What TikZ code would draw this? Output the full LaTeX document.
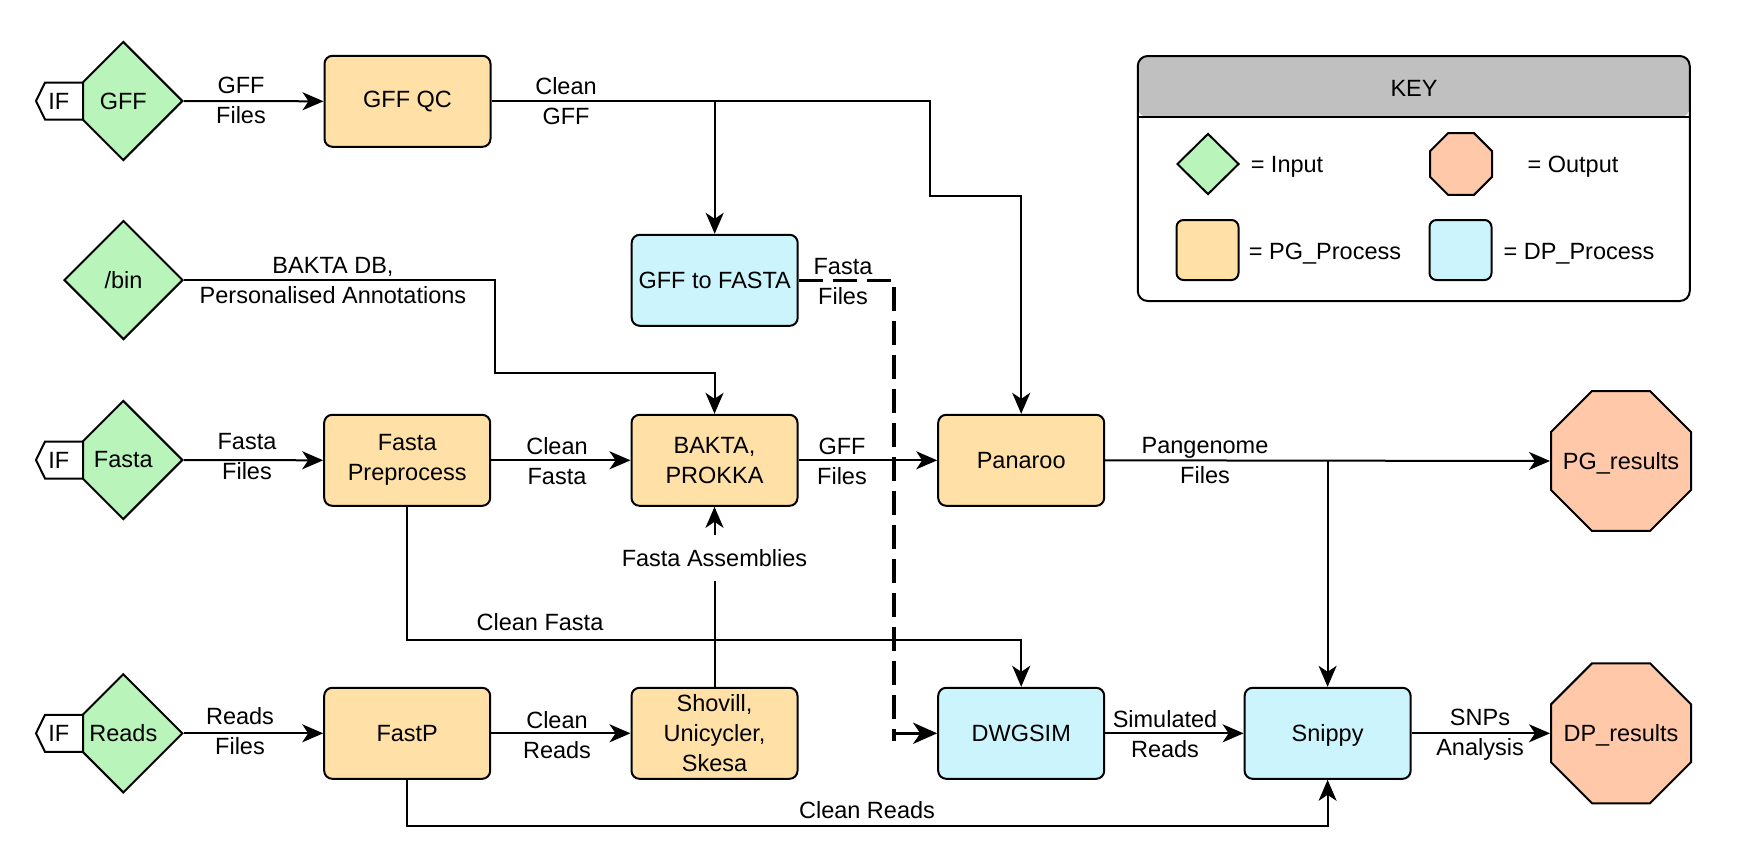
\documentclass[tikz,border=0pt]{standalone}
\usepackage{fontspec}
\setmainfont{Liberation Sans}
\usetikzlibrary{arrows.meta,shapes.geometric}

\definecolor{ingreen}{RGB}{185,245,187}
\definecolor{pgorange}{RGB}{255,224,166}
\definecolor{dpblue}{RGB}{204,244,252}
\definecolor{outpeach}{RGB}{255,200,168}
\definecolor{keygray}{RGB}{192,192,192}

\tikzset{
  box/.style={draw, line width=2pt, rounded corners=8pt, minimum width=166pt,
    minimum height=91pt, align=center, inner sep=2pt},
  pgbox/.style={box, fill=pgorange},
  dpbox/.style={box, fill=dpblue},
  inbox/.style={draw, line width=2pt, fill=ingreen, diamond, shape aspect=1,
    inner sep=0pt, minimum width=119pt, minimum height=119pt},
  outbox/.style={draw, line width=2pt, fill=outpeach, regular polygon,
    regular polygon sides=8, inner sep=0pt, minimum size=151.5pt},
  iftag/.style={draw, line width=2pt, fill=white},
  lbl/.style={align=center, inner sep=0pt},
  capc/.style={text height=16.8pt, text depth=0pt},
  conn/.style={line width=2pt},
  arr/.style={line width=2pt, -{Stealth[length=21pt, width=18pt, inset=6pt]}},
  dashline/.style={line width=3.5pt, dash pattern=on 24pt off 10pt},
  thickarr/.style={line width=3.5pt, -{Stealth[length=24pt, width=21pt, inset=7pt]}},
}

\begin{document}
\begin{tikzpicture}[x=1pt, y=-1pt, font=\fontsize{23.5}{30}\selectfont]
\useasboundingbox (0,0) rectangle (1763,865);

% inputs
\node[inbox] (gffin)   at (123.3,101)   {GFF};
\node[inbox] (binin)   at (123.5,280)   {/bin};
\node[inbox] (fastain) at (123.3,460)   {Fasta};
\node[inbox] (readsin) at (123.3,733.3) {Reads};

% "IF" tags laid over the left tips of the input diamonds
\foreach \yy/\nm in {101/ifgff, 460/iffasta, 733.3/ifreads}{
  \draw[iftag] (36,\yy) -- (45,\yy-18.5) -- (83,\yy-18.5) -- (83,\yy+18.5)
    -- (45,\yy+18.5) -- cycle;
  \node[lbl] (\nm) at (58.8,\yy) {IF};
}

% processes
\node[pgbox] (gffqc)    at (407.5,101.3) {GFF QC};
\node[dpbox] (gff2fa)   at (714.7,280.3) {GFF to FASTA};
\node[pgbox] (fastapre) at (407.2,460.3) {Fasta\\Preprocess};
\node[pgbox] (bakta)    at (714.5,460.3) {BAKTA,\\PROKKA};
\node[pgbox] (panaroo)  at (1021.2,460.3) {Panaroo};
\node[pgbox] (fastp)    at (407.2,733.3) {FastP};
\node[pgbox] (shovill)  at (714.5,733.3) {Shovill,\\Unicycler,\\Skesa};
\node[dpbox] (dwgsim)   at (1021.2,733.3) {DWGSIM};
\node[dpbox, capc] (snippy) at (1327.6,733.3) {Snippy};

% outputs (text as a centred label so it may run close to the sides)
\node[outbox, label={[capc]center:PG\_results}] (pgres) at (1621,461)   {};
\node[outbox, label={[capc]center:DP\_results}] (dpres) at (1621,733.3) {};

% bend points
\coordinate (gffsplit) at (714.7,101.3);
\coordinate (gffbend)  at (930,196);
\coordinate (binbend)  at (495,373);
\coordinate (cfbend)   at (1021.2,640);
\coordinate (crbend)   at (1327.6,826);
\coordinate (pgsplit)  at (1327.6,460.3);
\coordinate (dashA)    at (894,280.3);
\coordinate (dashB)    at (894,733.3);

% connectors
\draw[arr] (gffin.east) -- (gffqc.west)
  node[lbl] at (241,100) {GFF\\Files};
\draw[arr] (gffqc.east) -| (gffbend) -| (panaroo.north)
  node[lbl] at (566,101) {Clean\\GFF};
\draw[arr] (gffsplit) -- (gff2fa.north);
\draw[arr] (binin.east) -| (binbend) -| (bakta.north)
  node[lbl] at (333,281) {BAKTA DB,\\Personalised Annotations};
\draw[arr] (fastain.east) -- (fastapre.west)
  node[lbl] at (247,457) {Fasta\\Files};
\draw[arr] (fastapre.east) -- (bakta.west)
  node[lbl] at (557,461) {Clean\\Fasta};
\draw[arr] (bakta.east) -- (panaroo.west)
  node[lbl] at (842,461) {GFF\\Files};
\draw[arr] (panaroo.east) -- (pgres.west)
  node[lbl] at (1205,461) {Pangenome\\Files};
\draw[arr] (pgsplit) -- (snippy.north);
\draw[arr] (readsin.east) -- (fastp.west)
  node[lbl] at (240,731) {Reads\\Files};
\draw[arr] (fastp.east) -- (shovill.west)
  node[lbl] at (557,735) {Clean\\Reads};
\draw[arr] (shovill.north) -- (bakta.south)
  node[lbl, fill=white, inner xsep=2pt, minimum height=46pt] at (714.5,558) {Fasta Assemblies};
\draw[arr] (fastapre.south) |- (cfbend) -- (dwgsim.north)
  node[lbl] at (540,622) {Clean Fasta};
\draw[arr] (fastp.south) |- (crbend) -- (snippy.south)
  node[lbl] at (867,810) {Clean Reads};
\draw[arr] (dwgsim.east) -- (snippy.west)
  node[lbl] at (1165,734) {Simulated\\Reads};
\draw[arr] (snippy.east) -- (dpres.west)
  node[lbl] at (1480,735) {SNPs\\Analysis};
% dashed link from GFF to FASTA into DWGSIM
\draw[dashline] (gff2fa.east) -- (dashA) -- ([yshift=-8pt]dashB);
\draw[thickarr] ([xshift=-1.75pt]dashB) -- (dwgsim.west);
\node[lbl] (fafiles) at (843,282) {Fasta\\Files};

% key
\node[draw, line width=2pt, rounded corners=10pt, fill=white,
  minimum width=552pt, minimum height=245pt,
  path picture={\fill[keygray] (path picture bounding box.north west)
    rectangle ([yshift=-61.3pt]path picture bounding box.north east);}]
  (keybox) at (1413.75,178.5) {};
\draw[line width=2pt] (keybox.west |- 0,117.3) -- (keybox.east |- 0,117.3);
\node[lbl, capc] (keytitle) at (1414,88) {KEY};
\node[draw, line width=2pt, fill=ingreen, diamond, shape aspect=1, inner sep=0pt,
  minimum width=62pt, minimum height=61pt] (keyin) at (1208,164) {};
\node[lbl, capc] (keyintxt) at (1287,164) {= Input};
\node[draw, line width=2pt, fill=outpeach, regular polygon, regular polygon sides=8,
  inner sep=0pt, minimum size=67.1pt] (keyout) at (1461,164) {};
\node[lbl, capc] (keyouttxt) at (1573,164) {= Output};
\node[draw, line width=2pt, fill=pgorange, rounded corners=7pt, minimum width=62pt,
  minimum height=60pt] (keypg) at (1207.5,250) {};
\node[lbl, capc] (keypgtxt) at (1325,251) {= PG\_Process};
\node[draw, line width=2pt, fill=dpblue, rounded corners=7pt, minimum width=62pt,
  minimum height=60pt] (keydp) at (1460.5,250) {};
\node[lbl, capc] (keydptxt) at (1579,251) {= DP\_Process};

\end{tikzpicture}
\end{document}
